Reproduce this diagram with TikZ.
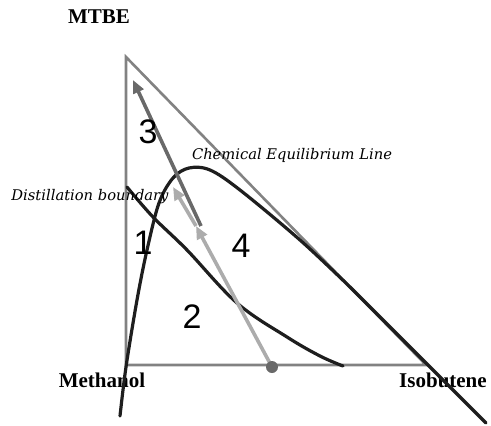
\documentclass[tikz,border=0pt]{standalone}
\usepackage{fontspec}
\setmainfont{Liberation Serif}
\newfontfamily\curvefont{DejaVu Serif}
\newfontfamily\regionfont{Liberation Sans}
\usetikzlibrary{arrows.meta,positioning,calc}

\definecolor{edgegray}{RGB}{130,130,130}
\definecolor{darkarrow}{RGB}{105,105,105}
\definecolor{lightarrow}{RGB}{172,172,172}
\definecolor{curveblack}{RGB}{30,30,30}

\begin{document}
\begin{tikzpicture}[x=1pt, y=-1pt,
        vertex/.style={font=\fontsize{21}{24}\selectfont\bfseries, inner sep=0pt},
        curvelabel/.style={font=\curvefont\itshape\fontsize{14.7}{16}\selectfont, inner sep=0pt},
        region/.style={font=\regionfont\fontsize{34}{36}\selectfont, inner sep=0pt},
        edge/.style={draw=edgegray, line width=2.6pt},
        curve/.style={draw=curveblack, line width=3.2pt, line cap=round},
        darkstep/.style={draw=darkarrow, line width=3.6pt, -{Triangle[length=13pt,width=11pt]}},
        lightstep/.style={draw=lightarrow, line width=3.6pt, -{Triangle[length=13pt,width=11pt]}}
    ]
    \useasboundingbox (0,0) rectangle (491,426);

    % Triangle corners
    \coordinate (top) at (126,57);
    \coordinate (left) at (126,365);
    \coordinate (right) at (426,365);

    % Corner labels
    \node[vertex] (mtbe) at (99,17) {MTBE};
    \node[vertex] (methanol) at (102,380) {Methanol};
    \node[vertex] (isobutene) at (443,380) {Isobutene};

    % Triangle
    \draw[edge] (top) -- (left) -- (right) -- cycle;

    % Chemical equilibrium line
    \draw[curve] plot[smooth, tension=0.55] coordinates {(120,416) (126,367) (137,300) (147,250) (159,203) (173,178) (189,168) (210,170) (240,190) (300,240) (350,287)} -- (486,423);

    % Distillation boundary
    \draw[curve] plot[smooth, tension=0.6] coordinates {(127,187) (153,217) (187,250) (237,303) (287,337) (320,356) (343,366)};

    % Feed point and trajectories
    \coordinate (feed) at (272,367);
    \coordinate (mid) at (196,226);
    \coordinate (peak) at (173,187);
    \coordinate (turn) at (201,226);
    \coordinate (apex) at (133,80);

    \draw[darkstep] (turn) -- (apex);
    \draw[lightstep] (feed) -- (mid);
    \draw[lightstep] (mid) -- (peak);
    \fill[darkarrow] (feed) circle (6pt);

    % Curve labels
    \node[curvelabel] (eqlabel) at (292,155) {Chemical Equilibrium Line};
    \node[curvelabel] (dblabel) at (90,197) {Distillation boundary};

    % Region numbers
    \node[region] (r1) at (143,243) {1};
    \node[region] (r2) at (192,317) {2};
    \node[region] (r3) at (148,132) {3};
    \node[region] (r4) at (241,246) {4};
\end{tikzpicture}
\end{document}
